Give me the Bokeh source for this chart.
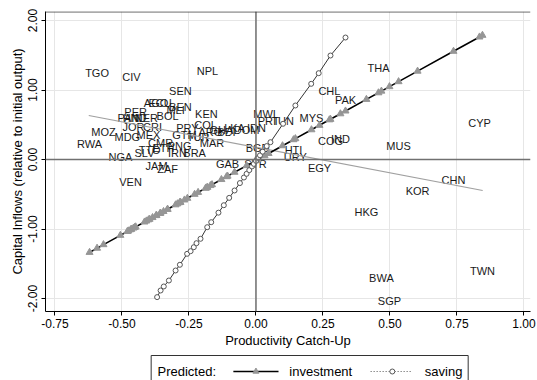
from bokeh.plotting import figure
from bokeh.layouts import column
from bokeh.models import Range1d, FixedTicker, PrintfTickFormatter, Span
from bokeh.core.properties import value
from bokeh.embed import file_html
from bokeh.resources import INLINE

FONT = "Liberation Sans"

countries = ["TGO", "CIV", "NPL", "SEN", "AGO", "ECU", "BEN", "MLI", "KEN", "PER",
             "PAN", "HND", "NER", "BOL", "JOR", "CRI", "MOZ", "MDG", "MEX", "RWA",
             "NGA", "SLV", "TTO", "JAM", "ZAF", "VEN", "CMR", "ETH", "PNG", "IRN",
             "BRA", "GTM", "PRY", "COL", "ARG", "BDI", "TUR", "MAR", "GHA", "LKA",
             "DOM", "IDN", "MWI", "PRT", "TUN", "MYS", "CHL", "PAK", "THA", "CYP",
             "COG", "IND", "MUS", "HTI", "URY", "EGY", "CHN", "KOR", "HKG", "BWA",
             "TWN", "SGP", "BGD", "GAB", "SYR"]
catchup = [-0.593, -0.465, -0.181, -0.282, -0.373, -0.358, -0.282, -0.300, -0.185, -0.449,
           -0.476, -0.453, -0.409, -0.330, -0.457, -0.386, -0.569, -0.480, -0.401, -0.621,
           -0.506, -0.416, -0.397, -0.371, -0.330, -0.468, -0.356, -0.345, -0.285, -0.293,
           -0.229, -0.267, -0.256, -0.188, -0.170, -0.110, -0.216, -0.164, -0.129, -0.080,
           -0.035, 0.002, 0.032, 0.047, 0.099, 0.207, 0.274, 0.334, 0.457, 0.834,
           0.278, 0.315, 0.532, 0.140, 0.147, 0.237, 0.737, 0.603, 0.412, 0.468,
           0.845, 0.498, 0.006, -0.106, -0.002]
inflows = [1.25, 1.19, 1.27, 0.99, 0.81, 0.82, 0.76, 0.71, 0.65, 0.69,
           0.60, 0.60, 0.60, 0.63, 0.47, 0.47, 0.39, 0.32, 0.35, 0.22,
           0.04, 0.09, 0.13, -0.10, -0.14, -0.32, 0.24, 0.17, 0.19, 0.09,
           0.09, 0.35, 0.45, 0.50, 0.39, 0.39, 0.32, 0.24, 0.43, 0.45,
           0.43, 0.46, 0.65, 0.56, 0.56, 0.60, 0.99, 0.85, 1.32, 0.53,
           0.26, 0.29, 0.19, 0.13, 0.03, -0.12, -0.29, -0.45, -0.75, -1.70,
           -1.61, -2.03, 0.17, -0.07, -0.06]
# predicted inflows from investment, one per country
pred_investment = [-1.276, -1.003, -0.399, -0.614, -0.807, -0.776, -0.614, -0.652, -0.407, -0.969,
                   -1.027, -0.978, -0.884, -0.716, -0.986, -0.835, -1.225, -1.035, -0.867, -1.336,
                   -1.091, -0.899, -0.859, -0.803, -0.716, -1.010, -0.771, -0.748, -0.620, -0.637,
                   -0.501, -0.582, -0.558, -0.413, -0.375, -0.247, -0.473, -0.362, -0.288, -0.183,
                   -0.088, -0.009, 0.055, 0.087, 0.198, 0.428, 0.571, 0.698, 0.960, 1.763,
                   0.579, 0.658, 1.120, 0.285, 0.300, 0.492, 1.557, 1.271, 0.865, 0.984,
                   1.787, 1.048, 0.000, -0.239, -0.017]

# fitted line through the scatter (end points)
fit_x = [-0.624, 0.846]
fit_y = [0.633, -0.446]

# predicted values: saving
sav_x = [-0.369, -0.356, -0.344, -0.325, -0.300, -0.284, -0.257, -0.244, -0.232, -0.222,
         -0.207, -0.182, -0.167, -0.140, -0.120, -0.100, -0.080, -0.060, -0.045, -0.035,
         -0.025, -0.015, -0.008, 0.000, 0.008, 0.015, 0.025, 0.040, 0.054, 0.101,
         0.147, 0.206, 0.234, 0.278, 0.334]
sav_y = [-1.980, -1.885, -1.827, -1.741, -1.597, -1.515, -1.357, -1.319, -1.262, -1.204,
         -1.141, -0.974, -0.902, -0.765, -0.658, -0.552, -0.446, -0.339, -0.259, -0.206,
         -0.153, -0.100, -0.063, -0.020, 0.023, 0.060, 0.113, 0.193, 0.249, 0.514,
         0.777, 1.089, 1.242, 1.496, 1.755]

x_ticks = [-0.75, -0.5, -0.25, 0.0, 0.25, 0.5, 0.75, 1.0]
y_ticks = [-2.0, -1.0, 0.0, 1.0, 2.0]

legend_title = "Predicted:"
legend_labels = ["investment", "saving"]

order = sorted(range(len(catchup)), key=lambda i: catchup[i])
inv_x = [catchup[i] for i in order]
inv_y = [pred_investment[i] for i in order]

X0, X1 = -0.7854, 1.0243
Y0, Y1 = -2.187, 2.1295

p = figure(width=537, height=351, x_range=Range1d(X0, X1),
           y_range=Range1d(Y0, Y1), output_backend="svg",
           toolbar_location=None, min_border_left=45, min_border_bottom=40,
           min_border_top=11, min_border_right=7)
p.outline_line_color = None
p.background_fill_color = "white"

for ax, ticks in ((p.xaxis[0], x_ticks), (p.yaxis[0], y_ticks)):
    ax.ticker = FixedTicker(ticks=ticks)
    ax.formatter = PrintfTickFormatter(format="%.2f")
    ax.minor_tick_line_color = None
    ax.major_tick_in = 0
    ax.major_tick_out = 4
    ax.major_tick_line_color = "black"
    ax.axis_line_color = "black"
    ax.major_label_text_font = FONT
    ax.major_label_text_font_size = "12px"
    ax.major_label_text_color = "black"
    ax.axis_label_text_font = FONT
    ax.axis_label_text_font_size = "13px"
    ax.axis_label_text_font_style = "normal"
    ax.axis_label_text_color = "black"

p.xaxis.major_label_standoff = 3
p.xaxis.axis_label_standoff = 2
p.yaxis.major_label_standoff = 4
p.yaxis.axis_label_standoff = 1

p.xaxis.axis_label = "Productivity Catch-Up"
p.yaxis.axis_label = "Capital Inflows (relative to initial output)"
p.yaxis.major_label_orientation = "vertical"

p.xgrid.ticker = FixedTicker(ticks=x_ticks)
p.ygrid.ticker = FixedTicker(ticks=y_ticks)
p.grid.grid_line_color = "#e6e6e6"
p.grid.grid_line_width = 1

p.add_layout(Span(location=0, dimension="width", line_color="#707070", line_width=1.5))
p.add_layout(Span(location=0, dimension="height", line_color="#707070", line_width=1.5))
p.add_layout(Span(location=Y1 - 0.006, dimension="width", line_color="#333333", line_width=1))

p.text(x=catchup, y=inflows, text=countries, text_align="center",
       text_baseline="middle", text_font=value(FONT), text_font_size="11px",
       text_color="#1a1a1a")

p.line(fit_x, fit_y, line_color="#a0a0a0", line_width=1.2)

p.line(inv_x, inv_y, line_color="black", line_width=1.6)
p.scatter(inv_x, inv_y, marker="triangle", size=7, fill_color="#969696",
          line_color="#969696")

p.line(sav_x, sav_y, line_color="#333333", line_width=1)
p.scatter(sav_x, sav_y, marker="circle", size=5, fill_color="white",
          line_color="#555555", line_width=1)

# legend panel below the chart
LH = 29
leg = figure(width=537, height=LH, x_range=Range1d(0, 537), y_range=Range1d(LH, 0),
             output_backend="svg", toolbar_location=None, min_border=0,
             x_axis_location=None, y_axis_location=None)
leg.outline_line_color = None
leg.grid.visible = False
leg.quad(left=[117], right=[468], top=[4], bottom=[60], fill_color=None,
         line_color="#333333", line_width=1)
leg.text(x=[124], y=[20], text=[legend_title], text_align="left", text_baseline="middle",
         text_font=value(FONT), text_font_size="13px", text_color="black")
leg.line([208, 258], [20, 20], line_color="black", line_width=1.6)
leg.scatter([233], [20], marker="triangle", size=6, fill_color="#969696", line_color="#969696")
leg.text(x=[270], y=[20], text=[legend_labels[0]], text_align="left", text_baseline="middle",
         text_font=value(FONT), text_font_size="13px", text_color="black")
leg.line([360, 405], [20, 20], line_color="#555555", line_width=1, line_dash="1 2")
leg.scatter([384], [20], marker="circle", size=5, fill_color="white", line_color="#555555")
leg.text(x=[420], y=[20], text=[legend_labels[1]], text_align="left", text_baseline="middle",
         text_font=value(FONT), text_font_size="13px", text_color="black")

layout = column(p, leg, spacing=0)
open("out.html", "w").write(file_html(layout, INLINE))
